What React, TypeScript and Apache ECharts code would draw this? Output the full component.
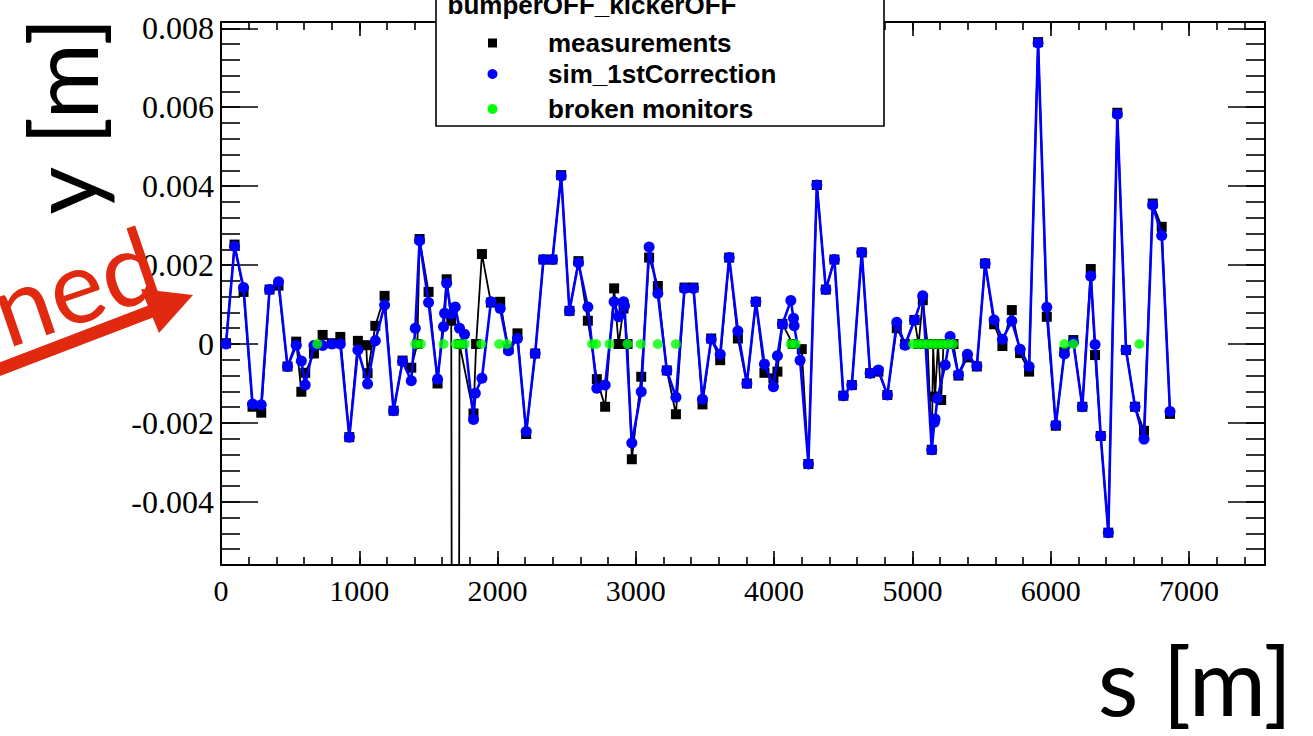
import React, { useEffect, useRef } from 'react';
import * as echarts from 'echarts';

// measurements (black squares): position s [m] and vertical offset y [m]
const measS = [36, 98, 163, 228, 291, 351, 416, 481, 544, 581, 609, 672, 735, 802, 863, 928, 990, 1050, 1060, 1116, 1183, 1248, 1313, 1376, 1420, 1436, 1501, 1566, 1632, 1665, 1694, 1725, 1826, 1845, 1887, 1952, 2019, 2079, 2144, 2207, 2272, 2332, 2397, 2460, 2520, 2585, 2653, 2718, 2778, 2843, 2875, 2911, 2940, 2971, 3039, 3096, 3159, 3224, 3290, 3352, 3417, 3482, 3545, 3610, 3675, 3738, 3803, 3868, 3930, 3995, 4024, 4060, 4135, 4200, 4248, 4309, 4374, 4436, 4501, 4562, 4634, 4694, 4754, 4819, 4887, 4947, 5015, 5045, 5075, 5110, 5140, 5150, 5164, 5185, 5208, 5225, 5250, 5297, 5333, 5398, 5466, 5526, 5591, 5651, 5719, 5779, 5844, 5909, 5972, 6037, 6099, 6164, 6229, 6290, 6321, 6362, 6417, 6482, 6545, 6610, 6675, 6738, 6803, 6863];
const measY = [0.00002, 0.00252, 0.00132, -0.00159, -0.00174, 0.00138, 0.00148, -0.00057, 0.00006, -0.00121, -0.00073, -0.00024, 0.00023, 0.00002, 0.00018, -0.00236, 0.00008, -0.00003, -0.00074, 0.00046, 0.00122, -0.00169, -0.00042, -0.0006, 0, 0.00266, 0.00132, -0.001, 0.00164, 0.00059, -0.06, 0, -0.00176, 0, 0.00228, 0.00105, 0.00107, -0.00013, 0.00027, -0.00228, -0.00024, 0.00214, 0.00214, 0.00428, 0.00084, 0.0021, 0.00059, -0.00089, -0.00159, 0.00141, 0, 0.0009, 0, -0.00292, -0.00083, 0.00219, 0.00147, -0.00067, -0.00178, 0.00143, 0.00143, -0.00153, 0.00014, -0.00041, 0.00219, 0.00014, -0.001, 0.00107, -0.00073, -0.00087, -0.0007, 0.00051, 0, -0.00013, -0.00304, 0.00403, 0.00138, 0.00214, -0.00131, -0.00104, 0.00232, -0.00074, -0.0007, -0.00129, 0.0004, 0, 0.00061, 0, 0.00111, 0, -0.00268, 0, -0.00133, 0, -0.00142, 0, 0, 0, -0.0008, -0.00034, -0.00057, 0.00204, 0.0005, -0.00005, 0.00086, -0.00023, -0.0007, 0.00765, 0.00069, -0.00207, -0.0002, 0.0001, -0.00159, 0.0019, -0.00028, -0.00233, -0.00478, 0.00586, -0.00015, -0.00159, -0.0022, 0.00356, 0.00297, -0.00177];

// simulation after 1st correction (blue circles)
const simS = [36, 98, 163, 228, 291, 351, 416, 481, 544, 581, 609, 672, 735, 802, 863, 928, 990, 1060, 1116, 1183, 1248, 1313, 1376, 1405, 1436, 1501, 1566, 1609, 1617, 1632, 1665, 1694, 1725, 1761, 1826, 1839, 1887, 1952, 2019, 2079, 2144, 2207, 2272, 2332, 2397, 2460, 2520, 2585, 2653, 2718, 2778, 2843, 2875, 2911, 2918, 2971, 3039, 3096, 3159, 3224, 3290, 3352, 3417, 3482, 3545, 3610, 3675, 3738, 3803, 3868, 3930, 3995, 4024, 4060, 4121, 4140, 4145, 4188, 4248, 4309, 4374, 4436, 4501, 4562, 4634, 4694, 4754, 4819, 4887, 4947, 5015, 5075, 5140, 5159, 5164, 5181, 5237, 5273, 5333, 5398, 5466, 5526, 5591, 5651, 5719, 5779, 5844, 5909, 5972, 6037, 6099, 6164, 6229, 6290, 6321, 6362, 6417, 6482, 6545, 6610, 6675, 6738, 6803, 6863];
const simY = [0, 0.00248, 0.00143, -0.00152, -0.00154, 0.00138, 0.00158, -0.00057, -0.00003, -0.00043, -0.00104, -0.00004, -0.00004, 0, 0, -0.00236, -0.00015, -0.00101, 0.00008, 0.00099, -0.00169, -0.00044, -0.00093, 0.0004, 0.00262, 0.00105, -0.00089, 0.00044, 0.00078, 0.00154, 0.00076, 0.00094, 0.0004, 0.00025, -0.00191, -0.00125, -0.00087, 0.00107, 0.0009, -0.00017, 0.00014, -0.00222, -0.00024, 0.00214, 0.00214, 0.00426, 0.00084, 0.00206, 0.00094, -0.00112, -0.00104, 0.00107, 0.00069, 0.00107, 0.00097, -0.00251, -0.00121, 0.00246, 0.00128, -0.00067, -0.00135, 0.00141, 0.00141, -0.0014, 0.00012, -0.00026, 0.00219, 0.00033, -0.001, 0.00107, -0.00051, -0.00108, -0.0003, 0.0005, 0.0011, 0.00065, 0.00046, -0.00041, -0.00304, 0.00403, 0.00138, 0.00214, -0.00131, -0.00104, 0.00232, -0.00074, -0.00066, -0.00129, 0.00055, -0.00003, 0.0006, 0.00122, -0.00268, -0.00198, -0.0019, -0.00138, -0.00053, 0.00019, -0.00078, -0.00026, -0.00056, 0.00204, 0.00061, 0.00012, 0.00058, -0.00013, -0.00057, 0.00763, 0.00093, -0.00205, -0.00025, 0.00005, -0.00159, 0.00172, -0.00001, -0.00233, -0.00478, 0.00582, -0.00015, -0.00159, -0.00241, 0.00352, 0.00275, -0.00171];

// broken monitors (green), drawn at y = 0
const brokenS = [696, 1405, 1445, 1609, 1698, 1730, 1763, 1882, 2012, 2067, 2684, 2713, 2809, 2940, 3036, 3159, 3290, 4120, 4156, 5005, 5041, 5077, 5113, 5149, 5185, 5221, 5258, 5294, 6099, 6164, 6641];
const brokenY = 0;

// axis ticks
const yMajorTicks = [-0.004, -0.002, 0, 0.002, 0.004, 0.006, 0.008];
const xMajorInterval = 1000;
const xMinorInterval = 200;
const yMinorInterval = 0.0004;

const legendTitle = 'bumperOFF_kickerOFF';
const seriesNames = ['measurements', 'sim_1stCorrection', 'broken monitors'];

export default function App() {
  const ref = useRef<HTMLDivElement>(null);
  useEffect(() => {
    if (!ref.current) return;
    const chart = echarts.init(ref.current, null, { renderer: 'svg' });
    const black = '#000';
    const blue = '#0000ff';
    const green = '#00ff00';
    const red = '#e0290f';
    const xMin = 0, xMax = 7550, yMin = -0.0056, yMax = 0.00816;
    const tickLine = { color: black, width: 1.6 };
    const frame = { color: black, width: 2 };
    const serif = 'Liberation Serif, Times New Roman, serif';
    const sans = 'Liberation Sans, Arial, Helvetica, sans-serif';
    const title = 'Lato, Open Sans, sans-serif';

    const xBase = (position: string, interval: number, len: number, showLine: boolean, showLabel: boolean) => ({
      type: 'value', position, min: xMin, max: xMax, interval,
      axisLine: { show: showLine, onZero: false, lineStyle: frame },
      axisTick: { show: true, inside: true, length: len, lineStyle: tickLine },
      axisLabel: {
        show: showLabel, margin: 10, fontFamily: serif, fontSize: 30, color: black,
        formatter: (v: number) => (Math.abs(v % xMajorInterval) < 1e-6 ? String(v) : ''),
      },
      splitLine: { show: false },
    });
    const yMajor = (position: string, showLabel: boolean) => ({
      type: 'value', position, min: yMin, max: yMax,
      axisLine: { show: true, onZero: false, lineStyle: frame },
      axisTick: { show: true, inside: true, length: 37, lineStyle: tickLine, customValues: yMajorTicks },
      axisLabel: {
        show: showLabel, margin: 7, fontFamily: serif, fontSize: 32, color: black,
        customValues: yMajorTicks,
        formatter: (v: number) => (Math.abs(v) < 1e-9 ? '0' : v.toFixed(3)),
      },
      splitLine: { show: false },
    });
    const yMinor = (position: string) => ({
      type: 'value', position, min: yMin, max: yMax, interval: yMinorInterval,
      axisLine: { show: false, onZero: false },
      axisTick: { show: true, inside: true, length: 19, lineStyle: tickLine },
      axisLabel: { show: false },
      splitLine: { show: false },
    });

    const meas = measS.map((s, i) => [s, measY[i]]);
    const sim = simS.map((s, i) => [s, simY[i]]);
    const broken = brokenS.map((s) => [s, brokenY]);

    const option: any = {
      animation: false,
      backgroundColor: '#fff',
      grid: { left: 221, right: 48, top: 22, bottom: 171, containLabel: false, outerBoundsMode: 'none' },
      xAxis: [
        xBase('bottom', xMajorInterval, 14, true, true),
        xBase('bottom', xMinorInterval, 8, false, false),
        xBase('top', xMajorInterval, 14, true, false),
        xBase('top', xMinorInterval, 8, false, false),
      ],
      yAxis: [yMajor('left', true), yMinor('left'), yMajor('right', false), yMinor('right')],
      series: [
        {
          type: 'line', name: seriesNames[0], data: meas, xAxisIndex: 0, yAxisIndex: 0,
          symbol: 'rect', symbolSize: 10, showAllSymbol: true, clip: true,
          lineStyle: { color: black, width: 1.8 }, itemStyle: { color: black }, z: 2,
        },
        {
          type: 'line', name: seriesNames[1], data: sim, xAxisIndex: 0, yAxisIndex: 0,
          symbol: 'circle', symbolSize: 11, showAllSymbol: true, clip: true,
          lineStyle: { color: blue, width: 2.6 }, itemStyle: { color: blue }, z: 3,
        },
        {
          type: 'scatter', name: seriesNames[2], data: broken, xAxisIndex: 0, yAxisIndex: 0,
          symbol: 'circle', symbolSize: 10, itemStyle: { color: green }, z: 4,
        },
      ],
      graphic: [
        { type: 'rect', z: 100, shape: { x: 436, y: -40, width: 448, height: 166 }, style: { fill: '#fff', stroke: black, lineWidth: 1.6 } },
        { type: 'text', z: 101, x: 592, y: 5, style: { text: legendTitle, fill: black, fontFamily: sans, fontWeight: 'bold', fontSize: 26, align: 'center', verticalAlign: 'middle' } },
        { type: 'rect', z: 101, shape: { x: 488, y: 38.5, width: 9, height: 9 }, style: { fill: black } },
        { type: 'circle', z: 101, shape: { cx: 492.5, cy: 74, r: 5 }, style: { fill: blue } },
        { type: 'circle', z: 101, shape: { cx: 492.5, cy: 109, r: 5 }, style: { fill: green } },
        { type: 'text', z: 101, x: 548, y: 43, style: { text: seriesNames[0], fill: black, fontFamily: sans, fontWeight: 'bold', fontSize: 26, align: 'left', verticalAlign: 'middle' } },
        { type: 'text', z: 101, x: 548, y: 74, style: { text: seriesNames[1], fill: black, fontFamily: sans, fontWeight: 'bold', fontSize: 26, align: 'left', verticalAlign: 'middle' } },
        { type: 'text', z: 101, x: 548, y: 109, style: { text: seriesNames[2], fill: black, fontFamily: sans, fontWeight: 'bold', fontSize: 26, align: 'left', verticalAlign: 'middle' } },
        { type: 'text', z: 101, x: 62, y: 116, rotation: Math.PI / 2, style: { text: 'y [m]', fill: black, fontFamily: title, fontSize: 93, align: 'center', verticalAlign: 'middle' } },
        { type: 'text', z: 101, x: 1195, y: 679, style: { text: 's [m]', fill: black, fontFamily: title, fontSize: 94, align: 'center', verticalAlign: 'middle' } },
        { type: 'text', z: 101, x: 74, y: 284, rotation: 0.33, style: { text: 'ned', fill: red, fontFamily: title, fontSize: 102, align: 'center', verticalAlign: 'middle' } },
        { type: 'line', z: 101, shape: { x1: -5, y1: 371, x2: 152, y2: 311 }, style: { stroke: red, lineWidth: 13 } },
        { type: 'polygon', z: 101, shape: { points: [[193, 295], [141, 289], [159, 333]] }, style: { fill: red } },
      ],
    };
    chart.setOption(option);
    return () => chart.dispose();
  }, []);
  return <div ref={ref} style={{ position: 'fixed', left: 0, top: 0, width: 1313, height: 736, background: '#fff' }} />;
}
